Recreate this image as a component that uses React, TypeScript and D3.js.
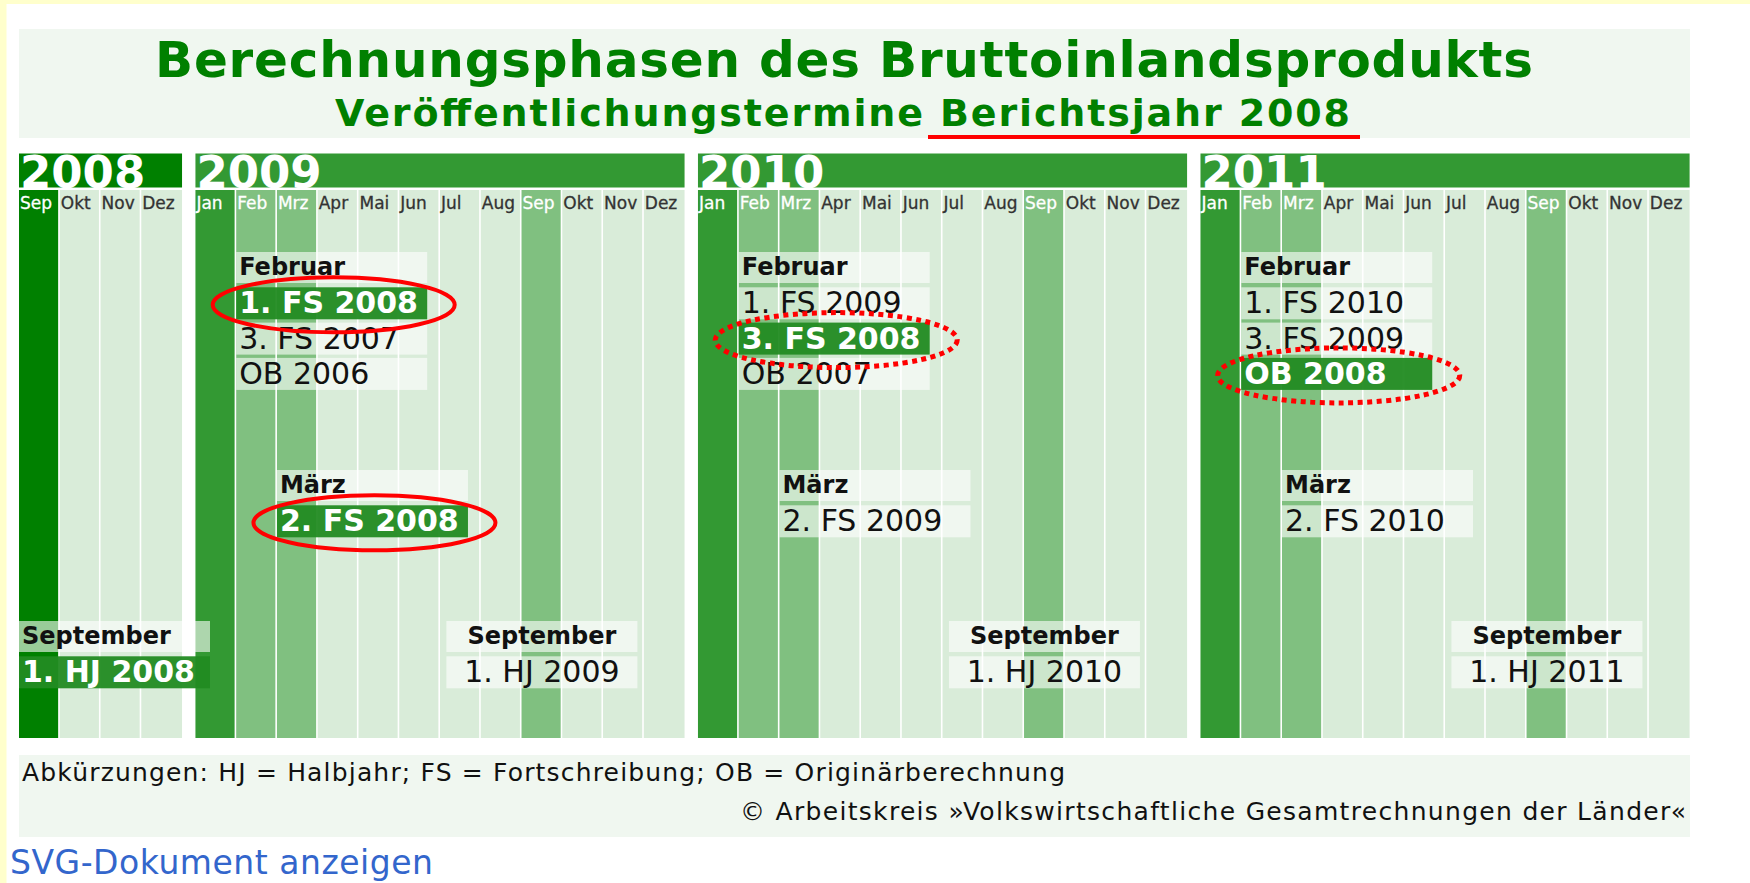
import React from "react";
import * as d3 from "d3";

// ---------- data ----------
const TITLE = "Berechnungsphasen des Bruttoinlandsprodukts";
const SUBTITLE_LEAD = "Veröffentlichungstermine";
const SUBTITLE_FOCUS = "Berichtsjahr 2008";
const years = ["2008", "2009", "2010", "2011"];
const monthNames = ["Jan", "Feb", "Mrz", "Apr", "Mai", "Jun", "Jul", "Aug", "Sep", "Okt", "Nov", "Dez"];
const firstMonthIndex = [8, 0, 0, 0];
const releaseMonths = ["Feb", "Mrz", "Sep"];

const februarYears = ["2009", "2010", "2011"];
const februarReleases = [
  ["1. FS 2008", "3. FS 2007", "OB 2006"],
  ["1. FS 2009", "3. FS 2008", "OB 2007"],
  ["1. FS 2010", "3. FS 2009", "OB 2008"],
];
const maerzYears = ["2009", "2010", "2011"];
const maerzReleases = [["2. FS 2008"], ["2. FS 2009"], ["2. FS 2010"]];
const septemberYears = ["2008", "2009", "2010", "2011"];
const septemberReleases = [["1. HJ 2008"], ["1. HJ 2009"], ["1. HJ 2010"], ["1. HJ 2011"]];

const reportYear = "2008";
const solidMarked = ["1. FS 2008", "2. FS 2008"];
const dottedMarked = ["3. FS 2008", "OB 2008"];

const ABBREVIATIONS = "Abkürzungen: HJ = Halbjahr; FS = Fortschreibung; OB = Originärberechnung";
const COPYRIGHT = "© Arbeitskreis »Volkswirtschaftliche Gesamtrechnungen der Länder«";
const LINK_LABEL = "SVG-Dokument anzeigen";

// ---------- layout ----------
const W = 1750;
const H = 883;
const LEFT = 19;
const RIGHT = 1690;
const MONTH_W = 40.76;
const GAP = 13.4;
const FONT = "'DejaVu Sans', Verdana, sans-serif";

const HEADER_TOP = 153.5;
const HEADER_H = 34;
const COL_TOP = 190;
const COL_BOTTOM = 738;

const BOX_W = 191;
const ROW_PITCH = 35.3;
const ROW_H = 32;
const HEAD_ROW_H = 31;

const COLORS = {
  darkest: "#008000",
  dark: "#339933",
  mid: "#80c080",
  light: "#d9ecd9",
  highlight: "#228b22",
  panel: "#f0f7f0",
  red: "#ff0000",
};

const blockSlots = years.map((_, i) => 12 - firstMonthIndex[i]);
const blockStart = blockSlots.map((_, i) => d3.sum(blockSlots.slice(0, i)));
const totalSlots = d3.sum(blockSlots);
const slotScale = d3
  .scaleLinear()
  .domain([0, totalSlots])
  .range([LEFT, LEFT + totalSlots * MONTH_W]);

const blockLeft = (bi: number) => slotScale(blockStart[bi]) + bi * GAP;
const blockRight = (bi: number) => slotScale(blockStart[bi] + blockSlots[bi]) + bi * GAP;
const monthLeft = (bi: number, m: number) =>
  slotScale(blockStart[bi] + (m - firstMonthIndex[bi])) + bi * GAP;

function monthShade(bi: number, m: number) {
  if (bi === 0 && m === 8) return COLORS.darkest;
  if (m === 0) return COLORS.dark;
  if (releaseMonths.includes(monthNames[m])) return COLORS.mid;
  return COLORS.light;
}

type Group = {
  title: string;
  year: string;
  month: string;
  entries: string[];
  top: number;
  centered: boolean;
};

const groups: Group[] = [
  ...februarYears.map((y, i) => ({ title: "Februar", year: y, month: "Feb", entries: februarReleases[i], top: 252, centered: false })),
  ...maerzYears.map((y, i) => ({ title: "März", year: y, month: "Mrz", entries: maerzReleases[i], top: 470, centered: false })),
  ...septemberYears.map((y, i) => ({ title: "September", year: y, month: "Sep", entries: septemberReleases[i], top: 621, centered: true })),
];

export default function App() {
  const cells: React.ReactNode[] = [];
  const labels: React.ReactNode[] = [];
  const headers: React.ReactNode[] = [];

  years.forEach((yr, bi) => {
    const bl = blockLeft(bi);
    const br = blockRight(bi);
    headers.push(
      <g key={"h" + yr}>
        <rect x={bl} y={HEADER_TOP} width={br - bl} height={HEADER_H} fill={bi === 0 ? COLORS.darkest : COLORS.dark} />
        <text x={bl + 1} y={HEADER_TOP + HEADER_H} fontFamily={FONT} fontWeight="bold" fontSize={45} fill="#ffffff">
          {yr}
        </text>
      </g>
    );
    for (let m = firstMonthIndex[bi]; m < 12; m++) {
      const x = monthLeft(bi, m);
      const last = m === 11;
      const fill = monthShade(bi, m);
      cells.push(
        <rect key={`c${yr}-${m}`} x={x} y={COL_TOP} width={last ? br - x : MONTH_W - 1.6} height={COL_BOTTOM - COL_TOP} fill={fill} />
      );
      labels.push(
        <text
          key={`l${yr}-${m}`}
          x={x + 1}
          y={209}
          fontFamily={FONT}
          fontSize={17}
          fill={fill === COLORS.light ? "#333333" : "#ffffff"}
          stroke={fill === COLORS.light ? "#333333" : "#ffffff"}
          strokeWidth={0.3}
        >
          {monthNames[m]}
        </text>
      );
    }
  });

  const boxes: React.ReactNode[] = [];
  const marks: React.ReactNode[] = [];
  groups.forEach((g, gi) => {
    const bi = years.indexOf(g.year);
    const m = monthNames.indexOf(g.month);
    const ml = monthLeft(bi, m);
    let left = ml;
    let anchor: "start" | "middle" = "start";
    if (g.centered) {
      const c = ml + MONTH_W / 2;
      left = c - BOX_W / 2;
      anchor = "middle";
      if (left < blockLeft(bi)) {
        left = blockLeft(bi);
        anchor = "start";
      }
    }
    const tx = anchor === "start" ? left + 3 : left + BOX_W / 2;
    boxes.push(
      <g key={"g" + gi}>
        <rect x={left} y={g.top} width={BOX_W} height={HEAD_ROW_H} fill="#ffffff" fillOpacity={0.6} />
        <text x={tx} y={g.top + 23} textAnchor={anchor} fontFamily={FONT} fontWeight="bold" fontSize={24} fill="#111111">
          {g.title}
        </text>
        {g.entries.map((e, k) => {
          const rt = g.top + ROW_PITCH * (k + 1);
          const hi = e.endsWith(reportYear);
          return (
            <g key={e}>
              <rect
                x={left}
                y={rt}
                width={BOX_W}
                height={ROW_H}
                fill={hi ? COLORS.highlight : "#ffffff"}
                fillOpacity={hi ? 0.95 : 0.6}
              />
              <text
                x={tx}
                y={rt + 26}
                textAnchor={anchor}
                fontFamily={FONT}
                fontWeight={hi ? "bold" : "normal"}
                fontSize={30}
                fill={hi ? "#ffffff" : "#111111"}
              >
                {e}
              </text>
            </g>
          );
        })}
      </g>
    );
    g.entries.forEach((e, k) => {
      const solid = solidMarked.includes(e);
      const dotted = dottedMarked.includes(e);
      if (!solid && !dotted) return;
      const rt = g.top + ROW_PITCH * (k + 1);
      marks.push(
        <ellipse
          key={"e" + e}
          cx={left + BOX_W / 2 + 2}
          cy={rt + ROW_H / 2 + 1.5}
          rx={121}
          ry={27.5}
          fill="none"
          stroke={COLORS.red}
          strokeWidth={solid ? 4 : 5}
          strokeDasharray={solid ? undefined : "5 4.5"}
        />
      );
    });
  });

  return (
    <svg
      width={W}
      height={H}
      viewBox={`0 0 ${W} ${H}`}
      style={{ position: "absolute", left: 0, top: 0, display: "block" }}
    >
      <rect x={0} y={0} width={W} height={H} fill="#ffffff" />
      <rect x={0} y={0} width={W} height={4} fill="#ffffcc" />
      <rect x={0} y={0} width={6.5} height={H} fill="#ffffcc" />

      {/* title panel */}
      <rect x={LEFT} y={29} width={RIGHT - LEFT} height={109} fill={COLORS.panel} />
      <text x={155} y={77} fontFamily={FONT} fontWeight="bold" fontSize={50} fill="#008000" textLength={1378} lengthAdjust="spacing">
        {TITLE}
      </text>
      <text x={335} y={126} fontFamily={FONT} fontWeight="bold" fontSize={38} fill="#008000" textLength={588} lengthAdjust="spacing">
        {SUBTITLE_LEAD}
      </text>
      <text x={940} y={126} fontFamily={FONT} fontWeight="bold" fontSize={38} fill="#008000" textLength={410} lengthAdjust="spacing">
        {SUBTITLE_FOCUS}
      </text>
      <rect x={928} y={135} width={432} height={4} fill={COLORS.red} />

      {headers}
      {cells}
      {labels}
      {boxes}
      {marks}

      {/* footer */}
      <rect x={LEFT} y={755} width={RIGHT - LEFT} height={82} fill={COLORS.panel} />
      <text x={22} y={781} fontFamily={FONT} fontSize={25} fill="#111111" textLength={1043} lengthAdjust="spacing">
        {ABBREVIATIONS}
      </text>
      <text x={740} y={820} fontFamily={FONT} fontSize={25} fill="#111111" textLength={946} lengthAdjust="spacing">
        {COPYRIGHT}
      </text>
      <text x={10} y={874} fontFamily={FONT} fontSize={33} fill="#3366cc" textLength={423} lengthAdjust="spacing">
        {LINK_LABEL}
      </text>
    </svg>
  );
}
